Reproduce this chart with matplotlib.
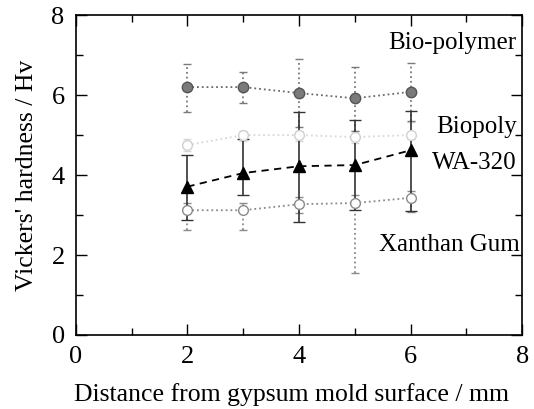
import numpy as np
import matplotlib
matplotlib.use("Agg")
import matplotlib.pyplot as plt
from matplotlib.ticker import MultipleLocator

plt.rcParams.update({
    'font.family': ['Liberation Serif', 'DejaVu Serif'],
    'axes.labelsize': 18.5,
    'xtick.labelsize': 19,
    'ytick.labelsize': 19,
})

# distance from mold surface (mm)
distance = [2, 3, 4, 5, 6]

# Vickers hardness values
bio_polymer = [6.2, 6.2, 6.05, 5.92, 6.08]
bio_polymer_lo = [5.57, 5.8, 5.2, 5.1, 5.35]
bio_polymer_hi = [6.78, 6.58, 6.9, 6.7, 6.8]

biopoly = [4.75, 5.0, 5.0, 4.95, 5.0]
biopoly_lo = [4.6, 4.85, 4.85, 4.8, 4.9]
biopoly_hi = [4.9, 5.1, 5.1, 5.1, 5.33]

wa320 = [3.71, 4.05, 4.22, 4.25, 4.62]
wa320_lo = [2.87, 3.5, 2.83, 3.12, 3.1]
wa320_hi = [4.5, 4.91, 5.57, 5.37, 5.6]

xanthan = [3.12, 3.12, 3.27, 3.3, 3.43]
xanthan_lo = [2.63, 2.63, 3.05, 1.56, 3.08]
xanthan_hi = [3.3, 3.3, 3.45, 3.5, 3.6]

series_labels = ["Bio-polymer", "Biopoly", "WA-320", "Xanthan Gum"]


def yerr(vals, lo, hi):
    v = np.array(vals)
    return np.vstack([v - np.array(lo), np.array(hi) - v])


def dotted_bars(cont):
    # make the vertical error bar lines dotted like the scanned figure
    for lc in cont[2]:
        lc.set_linestyle(':')


fig = plt.figure(figsize=(5.34, 4.09), dpi=100)
ax = fig.add_axes([0.142, 0.181, 0.836, 0.782])

# Biopoly - very faint
c = ax.errorbar(distance, biopoly, yerr=yerr(biopoly, biopoly_lo, biopoly_hi),
                color='#d8d8d8', linestyle=':', linewidth=1.3, marker='o',
                markersize=7, markerfacecolor='white', markeredgecolor='#d0d0d0',
                ecolor='#d8d8d8', elinewidth=1.2, capsize=3)
dotted_bars(c)

# Xanthan Gum
c = ax.errorbar(distance, xanthan, yerr=yerr(xanthan, xanthan_lo, xanthan_hi),
                color='#8a8a8a', linestyle=':', linewidth=1.3, marker='o',
                markersize=7, markerfacecolor='white', markeredgecolor='#8a8a8a',
                ecolor='#8a8a8a', elinewidth=1.3, capsize=3)
dotted_bars(c)

# Bio-polymer
c = ax.errorbar(distance, bio_polymer, yerr=yerr(bio_polymer, bio_polymer_lo, bio_polymer_hi),
                color='#6a6a6a', linestyle=':', linewidth=1.3, marker='o',
                markersize=7.5, markerfacecolor='#7a7a7a', markeredgecolor='#555555',
                ecolor='#7a7a7a', elinewidth=1.3, capsize=3)
dotted_bars(c)

# WA-320
ax.errorbar(distance, wa320, yerr=yerr(wa320, wa320_lo, wa320_hi),
            color='black', linestyle=(0, (4, 3)), linewidth=1.3, marker='^',
            markersize=8, markerfacecolor='black', markeredgecolor='black',
            ecolor='#333333', elinewidth=1.2, capsize=4)

ax.text(7.9, 7.3, series_labels[0], ha='right', va='center', fontsize=18)
ax.text(7.9, 5.2, series_labels[1], ha='right', va='center', fontsize=18)
ax.text(7.9, 4.3, series_labels[2], ha='right', va='center', fontsize=18)
ax.text(7.95, 2.25, series_labels[3], ha='right', va='center', fontsize=18)

ax.set_xlim(0, 8)
ax.set_ylim(0, 8)
ax.xaxis.set_major_locator(MultipleLocator(2))
ax.xaxis.set_minor_locator(MultipleLocator(1))
ax.yaxis.set_major_locator(MultipleLocator(2))
ax.yaxis.set_minor_locator(MultipleLocator(1))
ax.tick_params(which='both', direction='in', top=True, right=True)
ax.tick_params(which='major', length=8, width=1, pad=8)
ax.tick_params(which='minor', length=5, width=1)
for s in ax.spines.values():
    s.set_linewidth(1.2)

ax.set_xlabel("Distance from gypsum mold surface / mm")
ax.xaxis.set_label_coords(0.484, -0.15)
ax.set_ylabel("Vickers' hardness / Hv", labelpad=10)

fig.savefig("out.png", dpi=100)
